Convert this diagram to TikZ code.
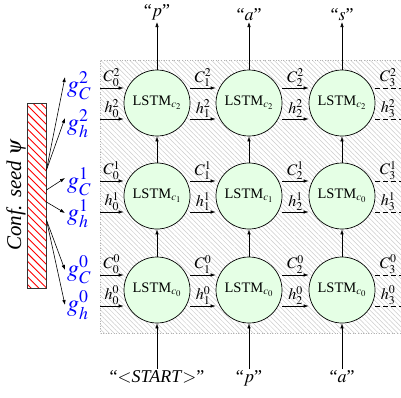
\documentclass[tikz,border=0pt]{standalone}
\usepackage{mathptmx}
\usepackage{fontspec}
\setmainfont{Liberation Serif}
\usetikzlibrary{patterns.meta,arrows.meta,calc}
\begin{document}
\begin{tikzpicture}[x=1pt,y=-1pt,
  lstm/.style={circle,draw,line width=0.7pt,fill=green!10,minimum size=66pt,inner sep=0pt,font=\fontsize{14.5}{16}\selectfont},
  arr/.style={-{Latex[length=5pt,width=3.5pt]},line width=0.6pt},
  dline/.style={line width=0.6pt,dash pattern=on 5pt off 3pt},
  lab/.style={font=\fontsize{16}{18}\selectfont,inner sep=1pt,anchor=south},
  glab/.style={font=\fontsize{24}{26}\selectfont,text=blue,inner sep=1pt,anchor=west},
  word/.style={font=\fontsize{18}{20}\selectfont,inner sep=1.5pt}
]
\fill[white] (0,0) rectangle (401,397);
\useasboundingbox (0,0) rectangle (401,397);
% hatched background
\fill[pattern={Lines[angle=-45,distance=3.4pt,line width=0.5pt]},pattern color=gray!40] (100,60) rectangle (401,333);
\draw[gray!60,dotted,line width=0.6pt] (401,60) -- (100,60) -- (100,333) -- (401,333);
% LSTM cells
\node[lstm] (n21) at (157,103) {LSTM$_{c_2}$};
\node[lstm] (n22) at (249,103) {LSTM$_{c_2}$};
\node[lstm] (n23) at (342,103) {LSTM$_{c_2}$};
\node[lstm] (n11) at (157,196) {LSTM$_{c_1}$};
\node[lstm] (n12) at (249,196) {LSTM$_{c_1}$};
\node[lstm] (n13) at (342,196) {LSTM$_{c_0}$};
\node[lstm] (n01) at (157,290) {LSTM$_{c_0}$};
\node[lstm] (n02) at (249,290) {LSTM$_{c_0}$};
\node[lstm] (n03) at (342,290) {LSTM$_{c_0}$};
% horizontal connections
\foreach \r in {0,1,2}{
  \coordinate (L\r) at ($(n\r1.center)+(-57,0)$);
  \coordinate (R\r) at ($(n\r3.center)+(59,0)$);
  \draw[arr] ($(L\r)+(0,-15)$) -- ($(n\r1.west)+(0,-15)$) node[lab,midway]{$C_0^{\r}$};
  \draw[arr] ($(L\r)+(0,16)$) -- ($(n\r1.west)+(0,16)$) node[lab,midway]{$h_0^{\r}$};
  \draw[arr] ($(n\r1.east)+(0,-15)$) -- ($(n\r2.west)+(0,-15)$) node[lab,midway]{$C_1^{\r}$};
  \draw[arr] ($(n\r1.east)+(0,16)$) -- ($(n\r2.west)+(0,16)$) node[lab,midway]{$h_1^{\r}$};
  \draw[arr] ($(n\r2.east)+(0,-15)$) -- ($(n\r3.west)+(0,-15)$) node[lab,midway]{$C_2^{\r}$};
  \draw[arr] ($(n\r2.east)+(0,16)$) -- ($(n\r3.west)+(0,16)$) node[lab,midway]{$h_2^{\r}$};
  \draw[dline] ($(n\r3.east)+(0,-15)$) -- ($(R\r)+(0,-15)$) node[lab,midway]{$C_3^{\r}$};
  \draw[dline] ($(n\r3.east)+(0,16)$) -- ($(R\r)+(0,16)$) node[lab,midway]{$h_3^{\r}$};
}
% vertical connections
\foreach \k in {1,2,3}{
  \draw[arr] (n0\k.north) -- (n1\k.south);
  \draw[arr] (n1\k.north) -- (n2\k.south);
}
% outputs
\node[word,anchor=south] (o1) at (157,22) {``$p$''};
\node[word,anchor=south] (o2) at (249,22) {``$a$''};
\node[word,anchor=south] (o3) at (342,22) {``$s$''};
\draw[arr] (n21.north) -- (o1.south);
\draw[arr] (n22.north) -- (o2.south);
\draw[arr] (n23.north) -- (o3.south);
% inputs
\node[word,anchor=north] (i1) at (157,369) {``$<$\textit{START}$>$''};
\node[word,anchor=north] (i2) at (249,369) {``$p$''};
\node[word,anchor=north] (i3) at (342,369) {``$a$''};
\draw[arr] (i1.north) -- (n01.south);
\draw[arr] (i2.north) -- (n02.south);
\draw[arr] (i3.north) -- (n03.south);
% seed bar
\node[draw=black!80,line width=0.7pt,pattern={Lines[angle=-45,distance=5.5pt,line width=0.9pt]},pattern color=red,minimum width=19pt,minimum height=185pt,inner sep=0pt] (bar) at (36.5,195.5) {};
\node[rotate=90,font=\fontsize{21}{24}\selectfont\itshape] (conf) at (16,195) {Conf. seed $\psi$};
% g labels
\node[glab] (gC2) at (66,86) {$g_C^2$};
\node[glab] (gh2) at (66,124) {$g_h^2$};
\node[glab] (gC1) at (66,182) {$g_C^1$};
\node[glab] (gh1) at (66,214) {$g_h^1$};
\node[glab] (gC0) at (66,270) {$g_C^0$};
\node[glab] (gh0) at (66,305) {$g_h^0$};
\draw[arr] ($(bar.east)+(0,-25.5)$) -- ($(gC2.west)+(-1,-9)$);
\draw[arr] ($(bar.east)+(0,-25.5)$) -- ($(gh2.west)+(-1,-6)$);
\draw[arr] ($(bar.east)+(0,-5.5)$) -- ($(gC1.west)+(-1,-4)$);
\draw[arr] ($(bar.east)+(0,6.5)$) -- ($(gh1.west)+(-1,-1)$);
\draw[arr] ($(bar.east)+(0,24.5)$) -- ($(gC0.west)+(-1,0)$);
\draw[arr] ($(bar.east)+(0,24.5)$) -- ($(gh0.west)+(-1,0)$);
\end{tikzpicture}
\end{document}
